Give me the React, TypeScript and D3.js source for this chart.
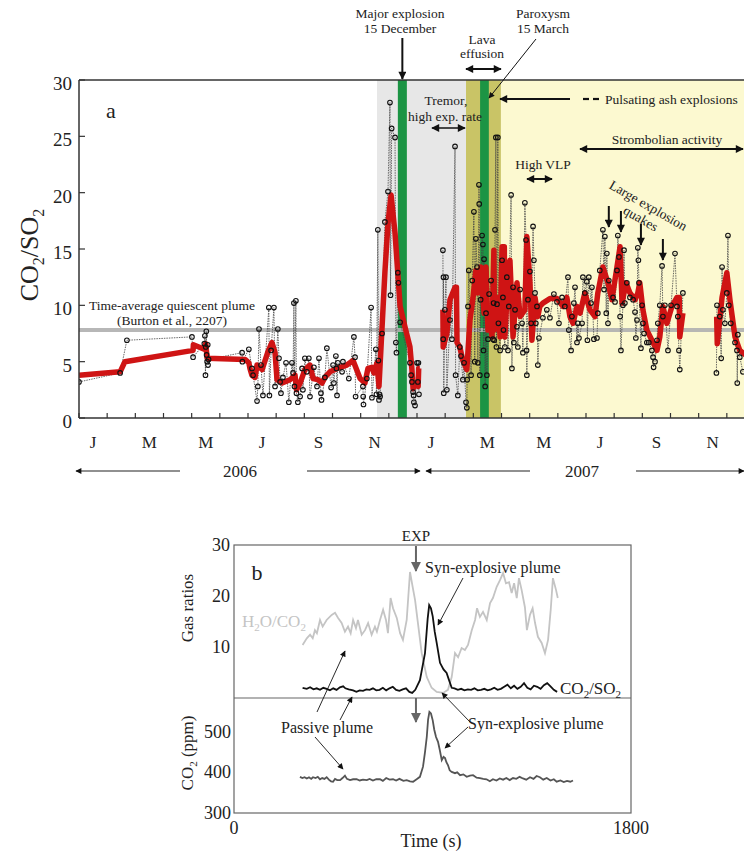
import React from "react";
import * as d3 from "d3";

// ---------- Panel a data (time in months since 1 Jan 2006, value CO2/SO2) ----------
const monthLabels = ["J", "M", "M", "J", "S", "N", "J", "M", "M", "J", "S", "N"];
const yTicksA = [0, 5, 10, 15, 20, 25, 30];
const quiescentLevel = 7.8;
const tremorPeriod = [10.58, 13.74];
const effusionPeriod = [13.74, 14.98];
const strombolianStart = 14.98;
const majorExplosionBar = [11.32, 11.64];
const paroxysmBar = [14.24, 14.55];
const quakeTimes = [18.81, 19.24, 19.95, 20.73];

const raw2006: [number, number][] = [
  [0.0, 3.2], [1.46, 4.0], [1.7, 6.9], [4.01, 7.2], [4.05, 5.4], [4.45, 6.6], [4.47, 7.3], [4.49, 3.8], [4.5, 6.3],
  [4.52, 7.7], [4.53, 5.6], [4.55, 5.0], [4.57, 6.5], [4.58, 4.7], [4.6, 5.2], [5.79, 5.8], [5.8, 5.0], [6.03, 6.1],
  [6.14, 4.4], [6.18, 3.8], [6.32, 1.5], [6.35, 2.8], [6.39, 7.9], [6.46, 4.7], [6.53, 2.0], [6.74, 9.8], [6.76, 2.0],
  [6.82, 6.0], [6.92, 9.8], [6.96, 2.8], [7.06, 7.9], [7.1, 5.3], [7.14, 3.2], [7.17, 2.2], [7.24, 3.6], [7.35, 4.9],
  [7.45, 1.4], [7.56, 4.9], [7.6, 4.0], [7.63, 10.2], [7.65, 2.8], [7.7, 10.4], [7.72, 2.2], [7.77, 1.4], [7.85, 1.9],
  [7.92, 4.4], [7.95, 2.5], [8.02, 5.3], [8.09, 4.1], [8.16, 5.3], [8.2, 1.9], [8.34, 4.5], [8.45, 2.8], [8.52, 5.3],
  [8.59, 2.2], [8.61, 1.6], [8.73, 3.6], [8.8, 6.2], [8.95, 2.7], [9.02, 4.7], [9.05, 3.1], [9.12, 5.5], [9.14, 4.4],
  [9.16, 2.0], [9.19, 4.9], [9.34, 4.1], [9.37, 5.0], [9.58, 3.5], [9.76, 7.2], [9.8, 5.4], [9.82, 1.9], [10.08, 2.8],
  [10.09, 1.9], [10.1, 1.2], [10.22, 3.5], [10.37, 9.8], [10.4, 1.8], [10.54, 6.1], [10.56, 2.1], [10.61, 16.7],
  [10.63, 5.1], [10.65, 1.6], [10.67, 2.1], [10.69, 1.9], [10.76, 7.5], [10.86, 17.4], [10.97, 20.1], [11.04, 28.0],
  [11.06, 10.9], [11.1, 25.7], [11.22, 24.9], [11.25, 6.7], [11.27, 5.8], [11.32, 12.9], [11.34, 12.0], [11.4, 8.5],
  [11.75, 4.9], [11.79, 3.8], [11.82, 3.2], [11.86, 2.3], [11.88, 2.0], [11.89, 1.4], [11.93, 1.1], [12.0, 4.9],
  [12.03, 3.2], [12.05, 4.9], [12.07, 2.1],
];

const raw2007: [number, number][] = [
  [12.92, 14.9], [12.93, 7.0], [12.94, 12.5], [12.95, 2.2], [12.99, 9.6], [13.03, 12.5], [13.06, 2.5], [13.17, 8.7],
  [13.24, 7.0], [13.35, 24.1], [13.37, 3.8], [13.45, 2.0], [13.52, 6.3], [13.56, 5.5], [13.63, 3.4], [13.67, 4.9],
  [13.74, 1.4], [13.77, 0.9], [13.78, 3.4], [13.81, 9.9], [13.84, 13.1], [13.92, 3.8], [13.96, 12.2], [14.02, 18.3],
  [14.05, 5.0], [14.09, 15.9], [14.13, 13.4], [14.16, 4.9], [14.2, 20.7], [14.21, 19.0], [14.23, 3.8], [14.26, 10.5],
  [14.31, 16.2], [14.34, 15.4], [14.36, 6.0], [14.38, 14.1], [14.42, 2.8], [14.45, 9.3], [14.48, 3.8], [14.52, 7.0],
  [14.56, 11.0], [14.63, 12.2], [14.7, 7.0], [14.72, 10.2], [14.74, 6.9], [14.77, 16.7], [14.8, 24.9], [14.82, 6.3],
  [14.84, 10.1], [14.87, 24.9], [14.89, 8.4], [14.95, 6.0], [15.02, 14.0], [15.05, 10.7], [15.07, 7.8], [15.12, 6.3],
  [15.19, 12.5], [15.23, 6.0], [15.26, 9.9], [15.34, 19.8], [15.37, 4.4], [15.41, 11.6], [15.44, 6.7], [15.48, 9.6],
  [15.55, 8.1], [15.58, 6.3], [15.66, 11.4], [15.73, 8.4], [15.76, 5.8], [15.83, 19.1], [15.87, 15.8], [15.89, 6.0],
  [15.9, 3.8], [15.94, 10.5], [16.01, 13.0], [16.05, 8.4], [16.12, 17.0], [16.15, 14.0], [16.19, 11.1], [16.22, 8.4],
  [16.26, 9.9], [16.29, 4.7], [16.33, 7.1], [16.47, 8.9], [16.61, 9.6], [16.72, 8.9], [16.86, 11.0], [16.97, 10.3],
  [17.04, 8.4], [17.15, 10.7], [17.25, 9.9], [17.36, 12.5], [17.39, 7.8], [17.47, 6.0], [17.5, 9.0], [17.57, 10.2],
  [17.61, 11.6], [17.68, 6.7], [17.71, 8.4], [17.75, 7.1], [17.86, 8.4], [17.89, 12.5], [17.96, 11.1], [18.03, 12.1],
  [18.05, 6.9], [18.1, 12.5], [18.18, 10.2], [18.21, 11.6], [18.28, 7.0], [18.39, 7.1], [18.42, 9.3], [18.49, 13.1],
  [18.6, 16.7], [18.64, 11.4], [18.67, 16.1], [18.72, 9.3], [18.74, 14.6], [18.78, 8.4], [18.81, 12.2], [18.96, 10.7],
  [19.03, 10.3], [19.1, 13.1], [19.13, 16.2], [19.17, 14.3], [19.21, 9.0], [19.24, 6.0], [19.31, 10.0], [19.35, 14.9],
  [19.38, 10.2], [19.45, 12.0], [19.56, 10.7], [19.67, 10.5], [19.74, 9.4], [19.77, 7.1], [19.81, 8.7], [19.84, 15.1],
  [19.86, 14.0], [19.88, 12.0], [19.95, 6.2], [19.99, 10.0], [20.02, 8.4], [20.06, 7.5], [20.16, 6.7], [20.23, 6.7],
  [20.34, 6.0], [20.38, 5.4], [20.4, 4.5], [20.45, 5.0], [20.52, 6.9], [20.55, 8.4], [20.62, 10.0], [20.7, 13.5],
  [20.73, 9.0], [20.8, 10.0], [20.91, 6.0], [21.02, 10.0], [21.16, 14.6], [21.23, 9.9], [21.26, 9.0], [21.3, 6.0],
  [21.33, 4.3], [21.44, 11.1],
];

const rawLate2007: [number, number][] = [
  [22.63, 4.0], [22.65, 10.0], [22.75, 9.0], [22.8, 5.3], [22.83, 13.4], [22.86, 9.6], [22.93, 8.4], [23.0, 11.1],
  [23.04, 16.2], [23.07, 10.0], [23.14, 8.4], [23.29, 6.7], [23.36, 6.0], [23.37, 3.1], [23.39, 7.4], [23.46, 5.4],
  [23.57, 4.1],
];

const avg2006: [number, number][] = [
  [0, 3.8], [1.46, 4.1], [1.63, 5.0], [4.05, 6.0], [4.06, 6.5], [4.45, 6.1], [4.5, 6.6], [4.55, 5.3], [5.9, 5.2],
  [6.03, 4.9], [6.07, 4.4], [6.14, 3.8], [6.25, 3.6], [6.32, 4.7], [6.5, 4.3], [6.71, 5.9], [6.85, 6.7], [6.96, 5.8],
  [7.03, 3.4], [7.21, 3.1], [7.49, 3.4], [7.67, 3.8], [7.72, 2.5], [7.85, 3.1], [8.02, 4.3], [8.2, 4.7], [8.31, 3.5],
  [8.48, 3.4], [8.63, 3.1], [8.73, 3.6], [8.91, 4.1], [9.09, 4.3], [9.27, 4.5], [9.51, 4.7], [9.73, 5.1], [9.98, 3.5],
  [10.15, 3.1], [10.26, 4.4], [10.4, 4.5], [10.47, 4.0], [10.58, 4.9], [10.65, 2.8], [10.86, 12.9], [10.97, 17.3],
  [11.08, 19.8], [11.22, 16.4], [11.4, 9.9], [11.57, 8.1], [11.75, 6.3], [11.82, 4.3], [11.86, 2.6], [11.95, 3.0],
  [12.04, 2.8], [12.06, 4.4], [12.1, 4.4],
];

const avg2007: [number, number][] = [
  [12.92, 9.6], [12.93, 6.3], [13.06, 7.5], [13.17, 10.5], [13.35, 11.6], [13.4, 11.6], [13.42, 6.7], [13.52, 6.3],
  [13.63, 5.1], [13.77, 4.3], [13.88, 8.7], [13.99, 10.7], [14.09, 13.1], [14.16, 11.1], [14.27, 13.4], [14.38, 9.3],
  [14.45, 13.4], [14.52, 7.8], [14.59, 9.3], [14.66, 7.2], [14.73, 14.9], [14.75, 7.8], [14.87, 10.7], [14.95, 7.2],
  [15.02, 15.2], [15.1, 15.2], [15.12, 7.2], [15.19, 10.5], [15.3, 14.0], [15.41, 7.2], [15.55, 12.0], [15.66, 9.0],
  [15.83, 9.6], [15.9, 16.1], [16.01, 12.0], [16.08, 6.9], [16.19, 10.7], [16.29, 9.0], [16.36, 9.9], [16.47, 10.2],
  [16.72, 10.6], [16.97, 10.6], [17.18, 9.9], [17.32, 10.7], [17.43, 9.0], [17.54, 8.4], [17.68, 9.9], [17.79, 9.3],
  [17.96, 11.1], [18.14, 9.6], [18.32, 9.0], [18.42, 11.1], [18.6, 13.4], [18.78, 12.0], [18.92, 10.5], [19.1, 13.4],
  [19.21, 15.2], [19.28, 10.2], [19.42, 12.0], [19.56, 11.1], [19.74, 10.5], [19.84, 11.1], [19.91, 12.0],
  [20.02, 9.6], [20.16, 7.8], [20.34, 6.9], [20.52, 6.0], [20.62, 7.2], [20.73, 9.9], [20.87, 8.4], [21.05, 9.9],
  [21.23, 10.7], [21.31, 10.7], [21.33, 7.2], [21.44, 9.3],
];

const avgLate2007: [number, number][] = [
  [22.64, 9.0], [22.66, 6.6], [22.83, 10.7], [23.0, 12.9], [23.11, 10.5], [23.29, 7.2], [23.46, 6.0], [23.61, 5.7],
  [24.0, 5.0],
];

// ---------- Panel b data (time in s) ----------
const yTicksBratio = [10, 20, 30];
const yTicksBco2 = [300, 400, 500];
const explosionTime = 825;

const h2oCo2: [number, number][] = [
  [311, 10.4], [330, 11.7], [345, 12.4], [357, 11.7], [367, 13.3], [376, 12.7], [390, 15.3], [402, 14.0], [420, 15.3],
  [443, 16.3], [458, 16.7], [472, 15.7], [488, 14.7], [503, 13.0], [517, 14.0], [529, 12.7], [540, 15.3], [553, 13.7],
  [562, 15.3], [579, 12.4], [594, 13.3], [608, 14.7], [624, 12.4], [639, 14.0], [648, 13.0], [662, 15.3], [676, 17.3],
  [689, 15.3], [698, 12.7], [710, 19.6], [721, 17.6], [738, 15.7], [753, 12.7], [766, 11.4], [783, 15.3], [798, 24.7],
  [810, 21.8], [821, 19.2], [834, 14.7], [851, 8.8], [874, 4.1], [896, 2.0], [919, 1.2], [948, 1.0], [970, 1.6],
  [987, 4.1], [1002, 8.8], [1016, 8.0], [1032, 9.8], [1047, 9.4], [1061, 10.4], [1078, 13.3], [1093, 15.3],
  [1102, 17.6], [1115, 15.9], [1129, 16.9], [1146, 15.3], [1161, 18.6], [1174, 19.6], [1191, 21.8], [1206, 23.1],
  [1220, 24.5], [1233, 22.5], [1247, 22.7], [1259, 20.6], [1270, 22.5], [1282, 19.6], [1292, 23.5], [1304, 21.2],
  [1319, 17.8], [1328, 13.3], [1342, 16.3], [1354, 17.6], [1365, 14.7], [1378, 12.0], [1395, 10.8], [1410, 8.8],
  [1424, 11.4], [1436, 17.3], [1446, 23.5], [1460, 21.2], [1468, 19.6],
];

const co2So2: [number, number][] = [
  [311, 2.0], [330, 1.8], [345, 2.1], [360, 1.7], [375, 1.9], [390, 1.6], [405, 2.0], [420, 1.8], [435, 1.5],
  [450, 1.9], [465, 1.6], [480, 2.1], [495, 2.3], [505, 1.9], [520, 1.7], [540, 1.5], [555, 1.2], [570, 1.5],
  [585, 1.4], [600, 1.7], [615, 1.6], [630, 1.9], [645, 1.5], [660, 1.6], [675, 2.0], [690, 1.5], [705, 1.9],
  [720, 2.2], [735, 1.6], [750, 1.4], [765, 1.7], [780, 1.9], [795, 1.2], [808, 1.0], [822, 1.6], [843, 3.5],
  [866, 8.8], [878, 15.5], [885, 18.2], [893, 17.6], [901, 16.0], [910, 13.0], [919, 10.8], [934, 6.9], [950, 5.6],
  [964, 4.9], [975, 3.5], [987, 2.0], [1000, 1.9], [1015, 1.6], [1030, 1.8], [1045, 1.5], [1060, 1.7], [1075, 1.6],
  [1090, 1.9], [1105, 1.5], [1120, 1.6], [1135, 1.8], [1150, 1.5], [1165, 1.7], [1180, 2.0], [1195, 1.6], [1210, 1.8],
  [1225, 2.2], [1240, 2.6], [1255, 1.9], [1270, 2.4], [1285, 1.8], [1300, 2.2], [1315, 2.9], [1330, 2.0], [1345, 1.7],
  [1360, 2.4], [1375, 2.2], [1390, 1.8], [1405, 2.5], [1420, 2.9], [1435, 2.3], [1450, 1.6], [1465, 1.2],
];

const co2ppm: [number, number][] = [
  [299, 389], [310, 386], [320, 388], [330, 385], [340, 388], [350, 384], [358, 388], [370, 386], [380, 389],
  [390, 383], [400, 386], [410, 384], [420, 388], [430, 382], [440, 378], [449, 377], [458, 384], [468, 381],
  [481, 381], [492, 386], [503, 392], [512, 384], [526, 381], [540, 383], [556, 383], [570, 380], [585, 382],
  [602, 381], [615, 384], [630, 380], [645, 383], [662, 383], [675, 379], [690, 386], [705, 382], [721, 383],
  [735, 380], [750, 384], [768, 379], [783, 381], [798, 378], [812, 377], [828, 383], [843, 389], [857, 414],
  [866, 450], [874, 487], [880, 530], [886, 549], [893, 545], [901, 528], [908, 505], [916, 487], [925, 475],
  [933, 455], [942, 430], [950, 438], [957, 435], [963, 425], [970, 418], [978, 405], [987, 401], [1002, 398],
  [1012, 400], [1025, 393], [1040, 395], [1055, 389], [1070, 392], [1084, 393], [1100, 387], [1115, 386],
  [1130, 384], [1145, 383], [1160, 378], [1174, 383], [1190, 380], [1205, 385], [1220, 382], [1235, 386],
  [1250, 381], [1265, 386], [1280, 384], [1295, 389], [1310, 385], [1325, 382], [1342, 388], [1358, 384],
  [1372, 391], [1387, 388], [1402, 382], [1418, 386], [1435, 380], [1450, 383], [1463, 377], [1480, 380],
  [1495, 376], [1510, 379], [1525, 377], [1537, 380],
];

const FONT = "'Liberation Serif', 'Times New Roman', serif";

export default function App() {
  const W = 744, H = 854;
  const xA = d3.scaleLinear().domain([0, 24]).range([79, 755]);
  const yA = d3.scaleLinear().domain([0, 30]).range([418, 80]);
  const xB = d3.scaleLinear().domain([0, 1800]).range([234, 631]);
  const yBr = d3.scaleLinear().domain([0, 30]).range([698, 545]);
  const yBc = d3.scaleLinear().domain([300, 583]).range([813, 698]);

  const lineA = d3.line<[number, number]>().x(d => xA(d[0])).y(d => yA(d[1]));
  const lineBr = d3.line<[number, number]>().x(d => xB(d[0])).y(d => yBr(d[1]));
  const lineBc = d3.line<[number, number]>().x(d => xB(d[0])).y(d => yBc(d[1]));

  const monthTicks = d3.range(0, 25);
  const allRaw = [...raw2006, ...raw2007, ...rawLate2007];
  const red = "#cf1414";

  return (
    <svg width={W} height={H} style={{ position: "absolute", left: 0, top: 0, background: "#fff" }} fontFamily={FONT}>
      <defs>
        <marker id="ah" viewBox="0 0 10 10" refX="9" refY="5" markerWidth="9" markerHeight="8" markerUnits="userSpaceOnUse" orient="auto-start-reverse">
          <path d="M0,0 L10,5 L0,10 z" fill="#111" />
        </marker>
        <marker id="ahs" viewBox="0 0 10 10" refX="9" refY="5" markerWidth="7" markerHeight="6" markerUnits="userSpaceOnUse" orient="auto-start-reverse">
          <path d="M0,0 L10,5 L0,10 z" fill="#111" />
        </marker>
        <marker id="ahg" viewBox="0 0 10 10" refX="9" refY="5" markerWidth="10" markerHeight="10" markerUnits="userSpaceOnUse" orient="auto">
          <path d="M0,0 L10,5 L0,10 z" fill="#666" />
        </marker>
        <clipPath id="clipA"><rect x={79} y={80} width={680} height={338} /></clipPath>
      </defs>

      {/* ---------- Panel a backgrounds ---------- */}
      <g clipPath="url(#clipA)">
        <rect x={xA(tremorPeriod[0])} y={80} width={xA(tremorPeriod[1]) - xA(tremorPeriod[0])} height={338} fill="#e7e7e7" />
        <rect x={xA(effusionPeriod[0])} y={80} width={xA(effusionPeriod[1]) - xA(effusionPeriod[0])} height={338} fill="#c9c466" />
        <rect x={xA(strombolianStart)} y={80} width={xA(24) - xA(strombolianStart)} height={338} fill="#fcf9d0" />
        <rect x={xA(majorExplosionBar[0])} y={80} width={xA(majorExplosionBar[1]) - xA(majorExplosionBar[0])} height={338} fill="#1c9444" />
        <rect x={xA(paroxysmBar[0])} y={80} width={xA(paroxysmBar[1]) - xA(paroxysmBar[0])} height={338} fill="#1c9444" />
        <line x1={xA(0)} x2={xA(24)} y1={yA(quiescentLevel)} y2={yA(quiescentLevel)} stroke="#b0b0b0" strokeWidth={4} opacity={0.9} />
        {[raw2006, raw2007, rawLate2007].map((s, i) => (
          <path key={i} d={lineA(s) || ""} fill="none" stroke="#444" strokeWidth={0.8} strokeDasharray="1.5,1" />
        ))}
        {[avg2006, avg2007, avgLate2007].map((s, i) => (
          <path key={i} d={lineA(s) || ""} fill="none" stroke={red} strokeWidth={5.5} strokeLinejoin="round" />
        ))}
        {allRaw.map((d, i) => (
          <circle key={i} cx={xA(d[0])} cy={yA(d[1])} r={2.3} fill="none" stroke="#111" strokeWidth={1.1} />
        ))}
      </g>

      {/* axes a */}
      <line x1={79} x2={W} y1={80} y2={80} stroke="#333" strokeWidth={1.5} />
      <line x1={79} x2={79} y1={80} y2={418} stroke="#333" strokeWidth={1.5} />
      <line x1={79} x2={W} y1={418} y2={418} stroke="#333" strokeWidth={1.5} />
      {yTicksA.map(t => (
        <g key={t}>
          <line x1={79} x2={85} y1={yA(t)} y2={yA(t)} stroke="#333" strokeWidth={1.2} />
          <text x={72} y={yA(t) + 10} fontSize={19} textAnchor="end" fill="#222">{t}</text>
        </g>
      ))}
      {monthTicks.map(m => (
        <line key={m} x1={xA(m)} x2={xA(m)} y1={418} y2={413} stroke="#333" strokeWidth={1.2} />
      ))}
      {monthLabels.map((l, i) => (
        <text key={i} x={xA(i * 2 + 0.5)} y={448} fontSize={17} textAnchor="middle" fill="#222">{l}</text>
      ))}
      <g stroke="#222" strokeWidth={1.2}>
        <line x1={180} x2={76} y1={471} y2={471} markerEnd="url(#ahs)" />
        <line x1={307} x2={420} y1={471} y2={471} markerEnd="url(#ahs)" />
        <line x1={530} x2={426} y1={471} y2={471} markerEnd="url(#ahs)" />
        <line x1={636} x2={744} y1={471} y2={471} markerEnd="url(#ahs)" />
      </g>
      <text x={240} y={477} fontSize={17} textAnchor="middle" fill="#222">2006</text>
      <text x={582} y={477} fontSize={17} textAnchor="middle" fill="#222">2007</text>

      <text transform="translate(38,255) rotate(-90)" fontSize={26} textAnchor="middle" fill="#222">
        CO<tspan fontSize={16} dy={6}>2</tspan><tspan dy={-6}>/SO</tspan><tspan fontSize={16} dy={6}>2</tspan>
      </text>
      <text x={106} y={118} fontSize={22} fill="#222">a</text>

      {/* annotations a */}
      <g fontSize={13.5} fill="#222" textAnchor="middle">
        <text x={400} y={18}>Major explosion</text>
        <text x={400} y={33}>15 December</text>
        <text x={482} y={44}>Lava</text>
        <text x={482} y={58}>effusion</text>
        <text x={543} y={18}>Paroxysm</text>
        <text x={543} y={33}>15 March</text>
        <text x={446} y={105}>Tremor,</text>
        <text x={445} y={121}>high exp. rate</text>
        <text x={667} y={144}>Strombolian activity</text>
        <text x={543} y={169}>High VLP</text>
        <text x={172} y={310}>Time-average quiescent plume</text>
        <text x={172} y={325}>(Burton et al., 2207)</text>
        <text x={605} y={104} textAnchor="start">Pulsating ash explosions</text>
        <g transform="translate(648,206) rotate(30)">
          <text x={0} y={4}>Large explosion</text>
          <text x={0} y={19}>quakes</text>
        </g>
      </g>
      <g stroke="#111">
        <line x1={xA(11.48)} x2={xA(11.48)} y1={38} y2={79} strokeWidth={2} markerEnd="url(#ah)" />
        <line x1={xA(effusionPeriod[0])} x2={xA(effusionPeriod[1])} y1={69} y2={69} strokeWidth={2} markerStart="url(#ah)" markerEnd="url(#ah)" />
        <line x1={536} x2={489} y1={39} y2={98} strokeWidth={1} markerEnd="url(#ahs)" />
        <line x1={570} x2={500} y1={99} y2={99} strokeWidth={2.2} markerEnd="url(#ah)" />
        <line x1={583} x2={589} y1={99} y2={99} strokeWidth={2.2} />
        <line x1={593} x2={599} y1={99} y2={99} strokeWidth={2.2} />
        <line x1={432} x2={465} y1={128} y2={128} strokeWidth={1.6} markerStart="url(#ah)" markerEnd="url(#ah)" />
        <line x1={580} x2={743} y1={149} y2={149} strokeWidth={2} markerStart="url(#ah)" markerEnd="url(#ah)" />
        <line x1={527} x2={552} y1={179} y2={179} strokeWidth={2} markerStart="url(#ah)" markerEnd="url(#ah)" />
        {quakeTimes.map((q, i) => {
          const tip = [227, 232, 245, 260][i];
          return <line key={i} x1={xA(q)} x2={xA(q)} y1={tip - 21} y2={tip} strokeWidth={2} markerEnd="url(#ah)" />;
        })}
      </g>

      {/* ---------- Panel b ---------- */}
      <rect x={234} y={545} width={397} height={268} fill="none" stroke="#666" strokeWidth={1.2} />
      <line x1={234} x2={631} y1={698} y2={698} stroke="#666" strokeWidth={1.2} />
      {yTicksBratio.map(t => (
        <text key={t} x={230} y={yBr(t) + 6} fontSize={18} textAnchor="end" fill="#222">{t}</text>
      ))}
      {yTicksBco2.map(t => (
        <text key={t} x={231} y={yBc(t) + 6} fontSize={18} textAnchor="end" fill="#222">{t}</text>
      ))}
      <text x={xB(0)} y={834} fontSize={18} textAnchor="middle" fill="#222">0</text>
      <text x={xB(1800)} y={834} fontSize={18} textAnchor="middle" fill="#222">1800</text>
      <text x={431} y={847} fontSize={18} textAnchor="middle" fill="#222">Time (s)</text>
      <text transform="translate(193,608) rotate(-90)" fontSize={17} textAnchor="middle" fill="#222">Gas ratios</text>
      <text transform="translate(193,753) rotate(-90)" fontSize={17} textAnchor="middle" fill="#222">
        CO<tspan fontSize={11} dy={4}>2</tspan><tspan dy={-4}> (ppm)</tspan>
      </text>
      <text x={257} y={580} fontSize={22} textAnchor="middle" fill="#222">b</text>

      <path d={lineBr(h2oCo2) || ""} fill="none" stroke="#c4c4c4" strokeWidth={1.8} />
      <path d={lineBr(co2So2) || ""} fill="none" stroke="#111" strokeWidth={1.8} />
      <path d={lineBc(co2ppm) || ""} fill="none" stroke="#555" strokeWidth={1.8} />

      <text x={xB(explosionTime)} y={541} fontSize={15} textAnchor="middle" fill="#222">EXP</text>
      <line x1={xB(explosionTime)} x2={xB(explosionTime)} y1={546} y2={571} stroke="#666" strokeWidth={2} markerEnd="url(#ahg)" />
      <line x1={xB(explosionTime)} x2={xB(explosionTime)} y1={698} y2={722} stroke="#666" strokeWidth={2} markerEnd="url(#ahg)" />

      <g fontSize={16} fill="#222">
        <text x={425} y={573}>Syn-explosive plume</text>
        <text x={242} y={627} fill="#c4c4c4" fontSize={17}>
          H<tspan fontSize={11} dy={4}>2</tspan><tspan dy={-4}>O/CO</tspan><tspan fontSize={11} dy={4}>2</tspan>
        </text>
        <text x={560} y={694} fontSize={17}>
          CO<tspan fontSize={11} dy={4}>2</tspan><tspan dy={-4}>/SO</tspan><tspan fontSize={11} dy={4}>2</tspan>
        </text>
        <text x={327} y={733} textAnchor="middle">Passive plume</text>
        <text x={468} y={729}>Syn-explosive plume</text>
      </g>
      <g stroke="#111" strokeWidth={0.9}>
        <line x1={463} x2={438} y1={578} y2={625} markerEnd="url(#ahs)" />
        <line x1={317} x2={345} y1={712} y2={651} markerEnd="url(#ahs)" />
        <line x1={340} x2={352} y1={720} y2={697} markerEnd="url(#ahs)" />
        <line x1={315} x2={343} y1={737} y2={769} markerEnd="url(#ahs)" />
        <line x1={470} x2={442} y1={722} y2={693} markerEnd="url(#ahs)" />
        <line x1={468} x2={445} y1={727} y2={748} markerEnd="url(#ahs)" />
      </g>
    </svg>
  );
}
